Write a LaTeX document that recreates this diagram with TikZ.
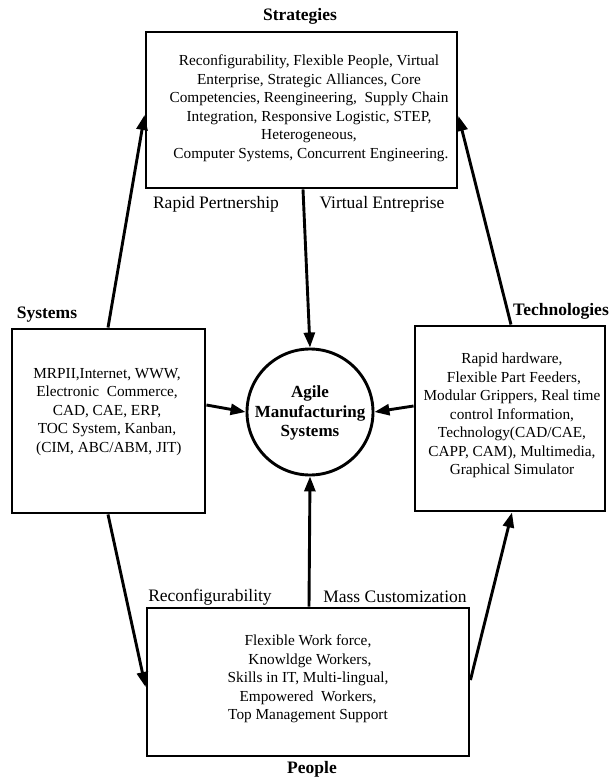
\documentclass[tikz,border=0pt]{standalone}
\usepackage{fontspec}
\setmainfont{Liberation Serif}
\usetikzlibrary{arrows.meta}
\begin{document}
\begin{tikzpicture}[x=1pt,y=-1pt,
  box/.style={draw,line width=2.9pt,rectangle,inner sep=0pt},
  body/.style={align=center,inner sep=0pt,font=\fontsize{15.3}{18.5}\selectfont},
  title/.style={inner sep=0pt,font=\fontsize{17.5}{20}\selectfont\bfseries},
  tag/.style={inner sep=0pt,font=\fontsize{17.5}{20}\selectfont},
  link/.style={line width=2.9pt,-{Triangle[length=15pt,width=11pt]}}]
\useasboundingbox[fill=white] (0,0) rectangle (608,779);

% outer boxes
\node[box,minimum width=311pt,minimum height=156pt] (strat) at (301.5,110) {};
\node[box,minimum width=193pt,minimum height=184pt] (sys) at (108.5,421) {};
\node[box,minimum width=190pt,minimum height=185pt] (tech) at (510,418.5) {};
\node[box,minimum width=322pt,minimum height=148pt] (people) at (308,682) {};
\node[draw,circle,line width=2.9pt,minimum size=126pt,inner sep=0pt] (ams) at (310,412) {};

% box titles
\node[title] (tstrat) at (300,16) {Strategies};
\node[title] (tsys) at (47,315) {Systems};
\node[title,anchor=east] (ttech) at (609,311) {Technologies};
\node[title] (tpeople) at (312,769) {People};

% box contents
\node[body] (cstrat) at (309,108.5) {Reconfigurability, Flexible People, Virtual\\
Enterprise, Strategic Alliances, Core\\
Competencies, Reengineering,\ \ Supply Chain\\
Integration, Responsive Logistic, STEP,\\
Heterogeneous,\\
\ Computer Systems, Concurrent Engineering.};
\node[body] (csys) at (107,412) {MRPII,Internet, WWW,\\
Electronic\ \ Commerce,\\
CAD, CAE, ERP,\\
TOC System, Kanban,\\
\ (CIM, ABC/ABM, JIT)};
\node[body] (ctech) at (512,415.5) {Rapid hardware,\\
\ Flexible Part Feeders,\\
Modular Grippers, Real time\\
control Information,\\
Technology(CAD/CAE,\\
CAPP, CAM), Multimedia,\\
Graphical Simulator};
\node[body] (cpeople) at (308,679) {Flexible Work force,\\
\ Knowldge Workers,\\
Skills in IT, Multi-lingual,\\
Empowered\ \ Workers,\\
Top Management Support};
\node[align=center,inner sep=0pt,font=\fontsize{17}{19.5}\selectfont\bfseries] (cams) at (310,413) {Agile\\Manufacturing\\Systems};

% connector labels
\node[tag] (lrp) at (216,204) {Rapid Pertnership};
\node[tag] (lve) at (382,204) {Virtual Entreprise};
\node[tag] (lrc) at (210,597) {Reconfigurability};
\node[tag] (lmc) at (395,597) {Mass Customization};

% connectors
\draw[link] ([xshift=-0.5pt]sys.north) -- ([yshift=-5pt]strat.west);
\draw[link] ([xshift=1pt]tech.north) -- ([yshift=-6pt]strat.east);
\draw[link] ([xshift=1.5pt]strat.south) -- (ams.north);
\draw[link] ([yshift=16pt]sys.east) -- (ams.west);
\draw[link] ([yshift=12.5pt]tech.west) -- (ams.east);
\draw[link] ([xshift=1pt]people.north) -- (ams.south);
\draw[link] ([xshift=-0.5pt]sys.south) -- ([yshift=-5pt]people.west);
\draw[link] ([yshift=2pt]people.east) -- ([xshift=2pt]tech.south);
\end{tikzpicture}
\end{document}
